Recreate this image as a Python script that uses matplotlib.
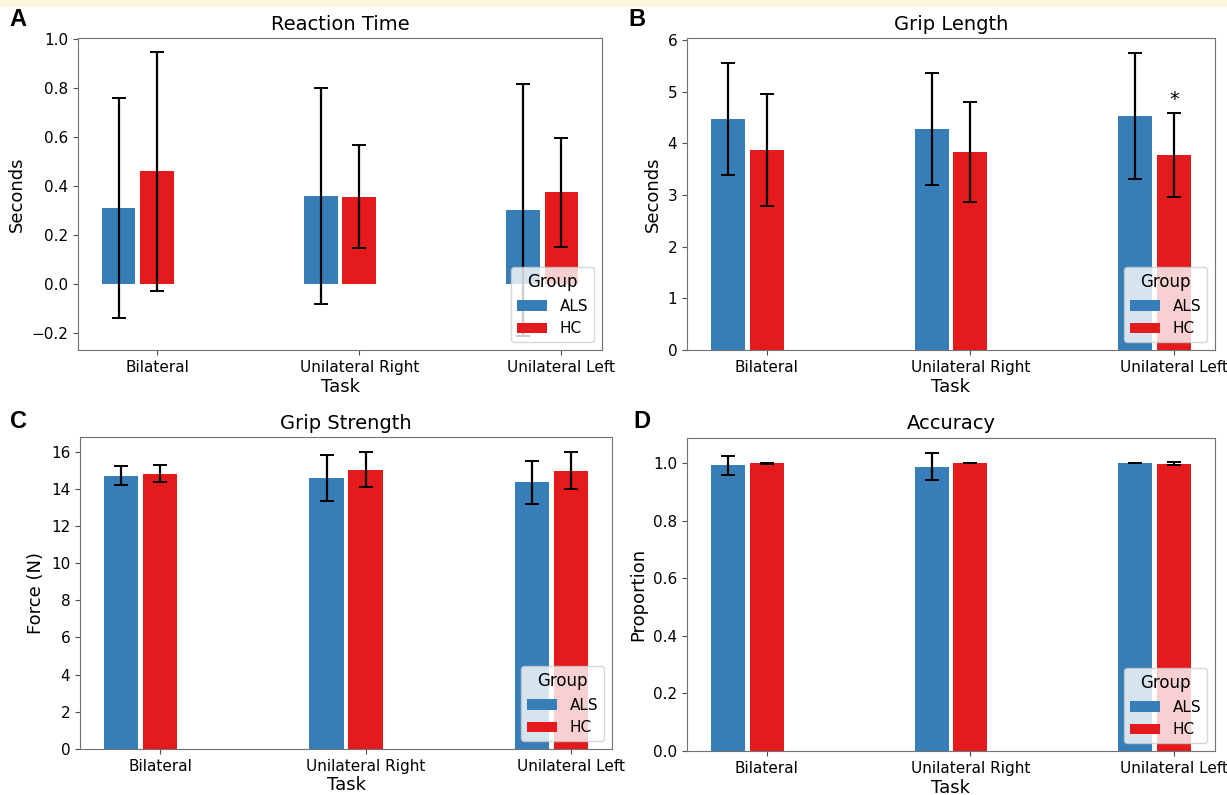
import numpy as np
import matplotlib
matplotlib.use("Agg")
import matplotlib.pyplot as plt
from matplotlib.patches import Rectangle

# task categories and groups
tasks = ["Bilateral", "Unilateral Right", "Unilateral Left"]
groups = ["ALS", "HC"]

# reaction time (s): means and sd
rt_als = [0.31, 0.36, 0.303]
rt_als_sd = [0.45, 0.44, 0.515]
rt_hc = [0.46, 0.356, 0.375]
rt_hc_sd = [0.487, 0.21, 0.222]

# grip length (s)
gl_als = [4.47, 4.28, 4.53]
gl_als_sd = [1.09, 1.085, 1.22]
gl_hc = [3.865, 3.83, 3.775]
gl_hc_sd = [1.08, 0.97, 0.81]

# grip strength (N)
gs_als = [14.71, 14.57, 14.34]
gs_als_sd = [0.5, 1.23, 1.18]
gs_hc = [14.82, 15.03, 14.98]
gs_hc_sd = [0.45, 0.96, 0.98]

# accuracy (proportion)
acc_als = [0.993, 0.988, 1.0]
acc_als_sd = [0.033, 0.048, 0.0]
acc_hc = [0.999, 1.0, 0.998]
acc_hc_sd = [0.003, 0.0, 0.006]

blue = "#377eb8"
red = "#e41a1c"

plt.rcParams["font.family"] = ["DejaVu Sans"]

fig = plt.figure(figsize=(12.27, 7.95), dpi=100)
fig.patches.append(Rectangle((0, 1 - 6 / 795), 1, 6 / 795, transform=fig.transFigure,
                             color="#fdf6de", zorder=0))

positions = {
    "A": [0.0636, 0.5597, 0.4271, 0.3925],
    "B": [0.5599, 0.5597, 0.4303, 0.3925],
    "C": [0.0652, 0.0579, 0.4336, 0.3925],
    "D": [0.5599, 0.0553, 0.4303, 0.3940],
}
panels = [
    ("A", "Reaction Time", "Seconds", rt_als, rt_als_sd, rt_hc, rt_hc_sd),
    ("B", "Grip Length", "Seconds", gl_als, gl_als_sd, gl_hc, gl_hc_sd),
    ("C", "Grip Strength", "Force (N)", gs_als, gs_als_sd, gs_hc, gs_hc_sd),
    ("D", "Accuracy", "Proportion", acc_als, acc_als_sd, acc_hc, acc_hc_sd),
]
letter_xy = {"A": (0.008, 0.975), "B": (0.512, 0.975), "C": (0.008, 0.47), "D": (0.516, 0.47)}

x = np.arange(len(tasks))
w = 0.166
off = 0.19
errkw = dict(ecolor="black", elinewidth=1.6, capsize=5, capthick=1.4)

for letter, title, ylab, als, als_sd, hc, hc_sd in panels:
    ax = fig.add_axes(positions[letter])
    ax.bar(x - off, als, w, yerr=als_sd, color=blue, label="ALS", error_kw=errkw)
    ax.bar(x, hc, w, yerr=hc_sd, color=red, label="HC", error_kw=errkw)
    ax.set_xticks(x)
    ax.set_xticklabels(tasks, fontsize=11)
    ax.tick_params(axis="y", labelsize=11)
    ax.set_title(title, fontsize=14)
    ax.set_xlabel("Task", fontsize=13, labelpad=2)
    ax.set_ylabel(ylab, fontsize=13)
    for s in ax.spines.values():
        s.set_color("0.45")
    ax.tick_params(color="0.3")
    leg = ax.legend(title="Group", loc="lower right", fontsize=11, title_fontsize=12)
    fig.text(letter_xy[letter][0], letter_xy[letter][1], letter, fontsize=17,
             fontweight="bold", family=["Liberation Sans", "DejaVu Sans"], va="center")
    if letter == "B":
        ax.text(2, hc[2] + hc_sd[2] + 0.08, "*", ha="center", va="bottom", fontsize=14)

fig.savefig("out.png", dpi=100)
